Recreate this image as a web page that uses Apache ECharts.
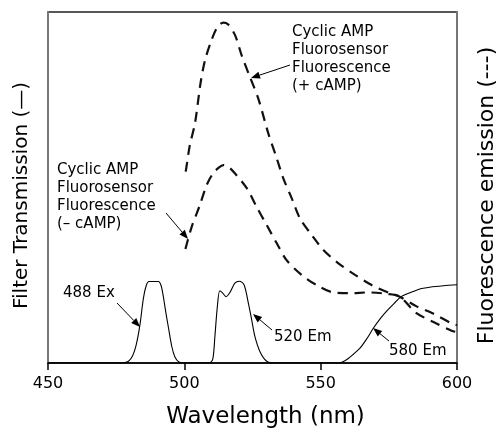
<!DOCTYPE html>
<html>
<head>
<meta charset="utf-8">
<style>
  html, body { margin: 0; padding: 0; background: #fff; }
  #chart { width: 497px; height: 430px; }
</style>
<script src="https://cdn.jsdelivr.net/npm/echarts@6/dist/echarts.min.js"></script>
</head>
<body>
<div id="chart"></div>
<script>
// wavelength (nm) / value pairs
var filterNm = [450, 476, 478, 479.5, 481, 482.3, 483.7, 485, 486, 487, 490.5, 491.5, 492.3, 493.2, 494.1, 495.4, 496.5, 498, 500,
  509, 510.4, 511.2, 512.1, 513, 514, 515.3, 516.8, 518.6, 520.2, 521.9, 523.5, 524.7, 525.9, 527.7, 530.2, 533,
  556, 558, 560, 562, 564.5, 567, 569.3, 572, 574.2, 577, 579.2, 582, 584, 587, 590, 595, 600];
var filterVal = [0, 0, 0.1, 0.5, 2, 5, 10.8, 18.5, 22, 23.2, 23.2, 22, 18.9, 14.5, 10.4, 4.7, 1.8, 0.3, 0,
  0, 1, 7.5, 16, 20.6, 20, 18.9, 20.2, 22.8, 23.3, 22.3, 17, 12.3, 7.5, 3.3, 0.5, 0,
  0, 0.3, 1.2, 2.5, 4.3, 7, 9.9, 12.8, 14.8, 17, 18.7, 19.8, 20.4, 21.2, 21.6, 22, 22.3];

var plusNm = [500.5, 501, 502, 503.9, 506, 507.6, 510, 512, 514.3, 516, 518.6, 521, 524, 527.1, 530.8, 533.9, 536.3, 539.4,
  542.4, 546.7, 551, 556.5, 562.6, 568.7, 575.4, 579, 585, 591, 598, 600];
var plusVal = [54.5, 57, 62, 68.3, 80, 86.3, 92, 95.5, 97, 96.5, 93.4, 87.7, 81.6, 75.4, 65.4, 58.3, 52.6, 46.9,
  41.2, 36.5, 32.2, 28.4, 25.1, 22.2, 19.9, 18.9, 16.2, 14.2, 11.3, 10.8];

var minusNm = [500.4, 502.7, 505.7, 508.2, 510.5, 512.4, 514.3, 516, 518.6, 522.9, 526.5, 530.2, 533.9, 537.5, 543, 548.5,
  554.6, 560.7, 567.5, 574.2, 579, 585, 591, 598, 600];
var minusVal = [32.5, 38.8, 45, 50.7, 54, 55.5, 56.4, 56, 54, 49.8, 44.5, 39.3, 34.1, 29.3, 25.1, 22.2,
  20.1, 19.9, 20.1, 19.7, 18.9, 14.3, 11.8, 9.2, 8.8];

var xTicks = { min: 450, max: 600, interval: 50 };

function pairs(xs, ys) {
  return xs.map(function (x, i) { return [x, ys[i]]; });
}

var FONT = 'DejaVu Sans';

function arrow(x1, y1, x2, y2) {
  var a = Math.atan2(y2 - y1, x2 - x1), L = 9, W = 3.5;
  var bx = x2 - L * Math.cos(a), by = y2 - L * Math.sin(a);
  var px = -Math.sin(a) * W, py = Math.cos(a) * W;
  return [
    { type: 'line', shape: { x1: x1, y1: y1, x2: bx, y2: by }, style: { stroke: '#000', lineWidth: 1 } },
    { type: 'polygon', shape: { points: [[x2, y2], [bx + px, by + py], [bx - px, by - py]] }, style: { fill: '#000' } }
  ];
}

function label(x, y, text) {
  return { type: 'text', x: x, y: y, style: { text: text, font: '15px "' + FONT + '"', lineHeight: 18, fill: '#000' } };
}

var graphics = [
  label(292, 23, 'Cyclic AMP\nFluorosensor\nFluorescence\n(+ cAMP)'),
  label(57, 161, 'Cyclic AMP\nFluorosensor\nFluorescence\n(\u2013 cAMP)'),
  label(63, 284, '488 Ex'),
  label(274, 328, '520 Em'),
  label(389, 342, '580 Em')
].concat(
  arrow(290, 65, 251, 78),
  arrow(166, 213, 188, 239),
  arrow(117, 303, 140, 327),
  arrow(272, 330, 253, 314),
  arrow(389, 341, 373, 328)
);

var myChart = echarts.init(document.getElementById('chart'));

var yBase = {
  min: 0, max: 100,
  axisLine: { show: true, lineStyle: { color: '#777', width: 2 } },
  axisTick: { show: false },
  axisLabel: { show: false },
  splitLine: { show: false },
  nameLocation: 'middle',
  nameRotate: 90
};

myChart.setOption({
  animation: false,
  grid: {
    left: 48, right: 40, top: 12, bottom: 67, outerBoundsMode: 'none',
    show: true, borderColor: '#222', borderWidth: 1.5
  },
  xAxis: {
    type: 'value',
    min: xTicks.min, max: xTicks.max, interval: xTicks.interval,
    axisLine: { lineStyle: { color: '#000', width: 1.5 } },
    axisTick: { length: 7, lineStyle: { color: '#000', width: 1.5 } },
    axisLabel: { fontFamily: FONT, fontSize: 16, color: '#000', margin: 13 },
    splitLine: { show: false },
    name: 'Wavelength (nm)',
    nameLocation: 'middle',
    nameGap: 43,
    nameTextStyle: { fontFamily: FONT, fontSize: 23, color: '#000', padding: [0, 0, 0, 26] }
  },
  yAxis: [
    Object.assign({}, yBase, {
      position: 'left', name: 'Filter Transmission (\u2014)', nameGap: 16,
      nameTextStyle: { fontFamily: FONT, fontSize: 20, color: '#000', padding: [0, 16, 0, 0] }
    }),
    Object.assign({}, yBase, {
      position: 'right', name: 'Fluorescence emission (---)', nameGap: 19,
      nameTextStyle: { fontFamily: FONT, fontSize: 22, color: '#000', padding: [0, 16, 0, 0] }
    })
  ],
  series: [
    {
      name: 'Filter', type: 'line', yAxisIndex: 0, data: pairs(filterNm, filterVal),
      symbol: 'none', smooth: 0.3, lineStyle: { color: '#000', width: 1.1 }
    },
    {
      name: '+ cAMP', type: 'line', yAxisIndex: 1, data: pairs(plusNm, plusVal),
      symbol: 'none', smooth: 0.3, lineStyle: { color: '#111', width: 2.2, type: [10, 7] }
    },
    {
      name: '- cAMP', type: 'line', yAxisIndex: 1, data: pairs(minusNm, minusVal),
      symbol: 'none', smooth: 0.3, lineStyle: { color: '#111', width: 2.2, type: [10, 7] }
    }
  ],
  graphic: graphics
});
</script>
</body>
</html>
